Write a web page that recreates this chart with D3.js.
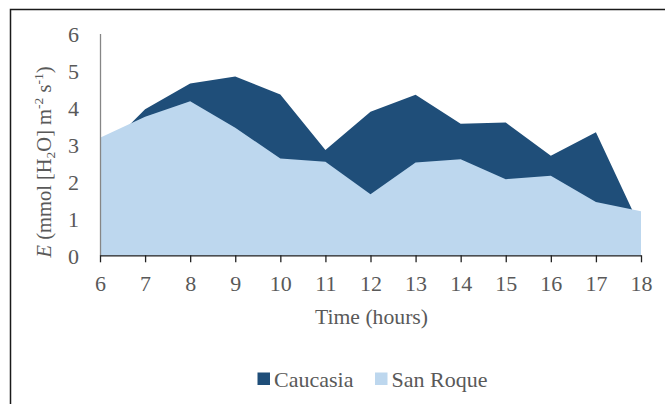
<!DOCTYPE html>
<html>
<head>
<meta charset="utf-8">
<script src="https://cdn.jsdelivr.net/npm/d3@7"></script>
<style>
  body { margin: 0; background: #fff; }
  text { font-family: "Liberation Serif", "Times New Roman", serif; fill: #595959; }
</style>
</head>
<body>
<div class="chart"></div>
<script>
// data
var hours = [6, 7, 8, 9, 10, 11, 12, 13, 14, 15, 16, 17, 18];
var caucasia = [2.73, 3.95, 4.65, 4.84, 4.35, 2.85, 3.88, 4.34, 3.56, 3.59, 2.69, 3.33, 0.72];
var sanRoque = [3.18, 3.75, 4.17, 3.45, 2.62, 2.53, 1.65, 2.51, 2.60, 2.06, 2.15, 1.44, 1.19];
var yTicks = [0, 1, 2, 3, 4, 5, 6];
var seriesNames = ["Caucasia", "San Roque"];
var colors = ["#1F4E79", "#BDD7EE"];

var svgWidth = 665;
var svgHeight = 404;
var margin = { top: 33.5, right: 24, bottom: 148.7, left: 100 };
var width = svgWidth - margin.left - margin.right;
var height = svgHeight - margin.top - margin.bottom;

var svg = d3.select(".chart")
  .append("svg")
  .attr("width", svgWidth)
  .attr("height", svgHeight);

// outer frame (only top and left edges are visible)
svg.append("path")
  .attr("d", "M10.5,404 L10.5,9.5 L665,9.5")
  .attr("fill", "none")
  .attr("stroke", "#1a1a1a")
  .attr("stroke-width", 1.5);

var chartGroup = svg.append("g")
  .attr("transform", `translate(${margin.left}, ${margin.top})`);

var x = d3.scaleLinear().domain([6, 18]).range([0, width]);
var y = d3.scaleLinear().domain([0, 6]).range([height, 0]);

var area = function(vals) {
  return d3.area()
    .x((d, i) => x(hours[i]))
    .y0(y(0))
    .y1(d => y(d))(vals);
};

chartGroup.append("path")
  .attr("d", area(caucasia))
  .attr("fill", colors[0]);

chartGroup.append("path")
  .attr("d", area(sanRoque))
  .attr("fill", colors[1]);

// y axis
var leftAxis = d3.axisLeft(y).tickValues(yTicks).tickFormat(d3.format("d")).tickSize(0).tickPadding(21);
var yAxis = chartGroup.append("g").call(leftAxis);
yAxis.select(".domain").attr("stroke", "#868686").attr("stroke-width", 1.3);
yAxis.selectAll("text")
  .style("font-size", "22px")
  .style("font-family", "Liberation Serif")
  .attr("fill", "#595959")
  .attr("dy", "0.35em");

// x axis
var bottomAxis = d3.axisBottom(x).tickValues(hours).tickFormat(d3.format("d")).tickSizeInner(7).tickSizeOuter(0);
var xAxis = chartGroup.append("g")
  .attr("transform", `translate(0, ${height})`)
  .call(bottomAxis);
xAxis.select(".domain").attr("stroke", "#222").attr("stroke-width", 1.3);
xAxis.selectAll(".tick line").attr("stroke", "#222").attr("stroke-width", 1.3);
xAxis.selectAll("text")
  .style("font-size", "22px")
  .style("font-family", "Liberation Serif")
  .attr("fill", "#595959")
  .attr("y", 36)
  .attr("dy", 0);

// axis titles
svg.append("text")
  .attr("x", 371.5)
  .attr("y", 324)
  .attr("text-anchor", "middle")
  .style("font-size", "21.7px")
  .text("Time (hours)");

var yTitle = svg.append("text")
  .attr("transform", "translate(51, 162) rotate(-90)")
  .attr("text-anchor", "middle")
  .style("font-size", "20.5px");
yTitle.append("tspan").attr("font-style", "italic").text("E");
yTitle.append("tspan").text(" (mmol [H");
yTitle.append("tspan").attr("font-size", "13.5px").attr("dy", 4).text("2");
yTitle.append("tspan").attr("dy", -4).text("O] m");
yTitle.append("tspan").attr("font-size", "13.5px").attr("dy", -8).text("-2");
yTitle.append("tspan").attr("dy", 8).text(" s");
yTitle.append("tspan").attr("font-size", "13.5px").attr("dy", -8).text("-1");
yTitle.append("tspan").attr("dy", 8).text(")");

// legend
var legendX = [257.5, 375];
var legend = svg.selectAll(".legend")
  .data(seriesNames)
  .enter()
  .append("g")
  .attr("class", "legend")
  .attr("transform", (d, i) => `translate(${legendX[i]}, 372.5)`);

legend.append("rect")
  .attr("width", 12.5)
  .attr("height", 12.5)
  .attr("fill", (d, i) => colors[i]);

legend.append("text")
  .attr("x", 16.5)
  .attr("y", 14)
  .style("font-size", "22px")
  .text(d => d);
</script>
</body>
</html>
